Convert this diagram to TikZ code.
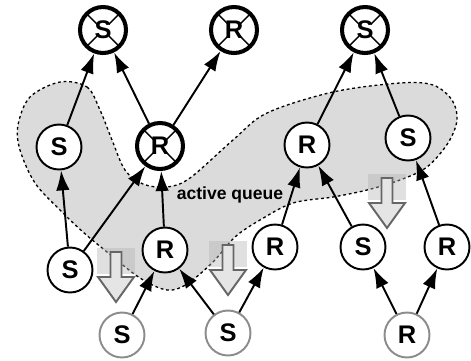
\documentclass[tikz,border=0pt]{standalone}
\usepackage{fontspec}
\setmainfont{Liberation Sans}
\usetikzlibrary{arrows.meta}

\tikzset{
	site/.style = {circle, draw, fill = white, line width = 1.1pt, minimum size = 0.9cm, inner sep = 0pt, font = \bfseries\fontsize{14.5}{14.5}\selectfont},
	dead/.style = {site, line width = 2.3pt, minimum size = 0.92cm, path picture = {
		\draw [line width = 0.8pt] (path picture bounding box.north west) -- (path picture bounding box.south east)
			(path picture bounding box.north east) -- (path picture bounding box.south west);
		\fill [white] ([shift = {(-0.13cm, -0.17cm)}] path picture bounding box.center)
			rectangle ([shift = {(0.13cm, 0.17cm)}] path picture bounding box.center);}},
	idle/.style = {site, draw = black!45},
}

\begin{document}
\begin{tikzpicture}[> = {Latex[length = 0.4cm, width = 0.27cm]}, x = 0.02cm, y = -0.02cm]

	\useasboundingbox (0, 0) rectangle (471, 360);

	% Active queue

	\draw [fill = black!14, line width = 0.75pt, dash pattern = on 1.6pt off 1.6pt]
		plot [smooth cycle, tension = 0.55] coordinates {
			(60, 82) (87, 87) (100, 110) (112, 140) (125, 170) (143, 184) (167, 187) (190, 178)
			(233, 140) (267, 113) (333, 92) (400, 83) (433, 85) (452, 100) (457, 120) (448, 143)
			(427, 167) (400, 180) (367, 190) (333, 197) (293, 203) (260, 220) (235, 237) (213, 262)
			(187, 284) (167, 290) (140, 278) (107, 252) (83, 232) (60, 210) (35, 183) (20, 150)
			(18, 125) (30, 97)};
	\node (queue) at (230, 195) {\bfseries\fontsize{10}{10}\selectfont active queue};

	% Down arrows

	\foreach \x/\y in {116/252, 228/245, 387/178} {
		\fill [black!30, opacity = 0.4] (\x - 19, \y - 4) rectangle (\x + 19, \y + 22);
		\draw [line width = 1.1pt, draw = black!60, fill = black!10]
			(\x - 5.5, \y) -- (\x + 5.5, \y) -- (\x + 5.5, \y + 25) -- (\x + 18, \y + 25)
			-- (\x, \y + 50) -- (\x - 18, \y + 25) -- (\x - 5.5, \y + 25) -- cycle;
	}

	% Sites

	\node [dead] (sA) at (103, 30) {S};
	\node [dead] (rA) at (234, 30) {R};
	\node [dead] (sB) at (365, 30) {S};

	\node [site] (s1) at (59, 147) {S};
	\node [dead] (r1) at (160, 146) {R};
	\node [site] (r2) at (307, 145) {R};
	\node [site] (s2) at (408, 138) {S};

	\node [site] (s3) at (70, 270) {S};
	\node [site] (r3) at (165, 250) {R};
	\node [site] (r4) at (275, 247) {R};
	\node [site] (s4) at (363, 247) {S};
	\node [site] (r5) at (447, 247) {R};

	\node [idle] (s5) at (122, 335) {S};
	\node [idle] (s6) at (228, 333) {S};
	\node [idle] (r6) at (407, 335) {R};

	% Links

	\begin{scope}[->, line width = 1.1pt]

		\draw (s1) -- (sA);
		\draw (r1) -- (sA);
		\draw (r1) -- (rA);
		\draw (r2) -- (sB);
		\draw (s2) -- (sB);

		\draw (s3) -- (s1);
		\draw (s3) -- (r1);
		\draw (r3) -- (r1);
		\draw (r4) -- (r2);
		\draw (s4) -- (r2);
		\draw (r5) -- (s2);

		\draw (s5) -- (r3);
		\draw (s6) -- (r3);
		\draw (s6) -- (r4);
		\draw (r6) -- (s4);
		\draw (r6) -- (r5);

	\end{scope}

\end{tikzpicture}
\end{document}
